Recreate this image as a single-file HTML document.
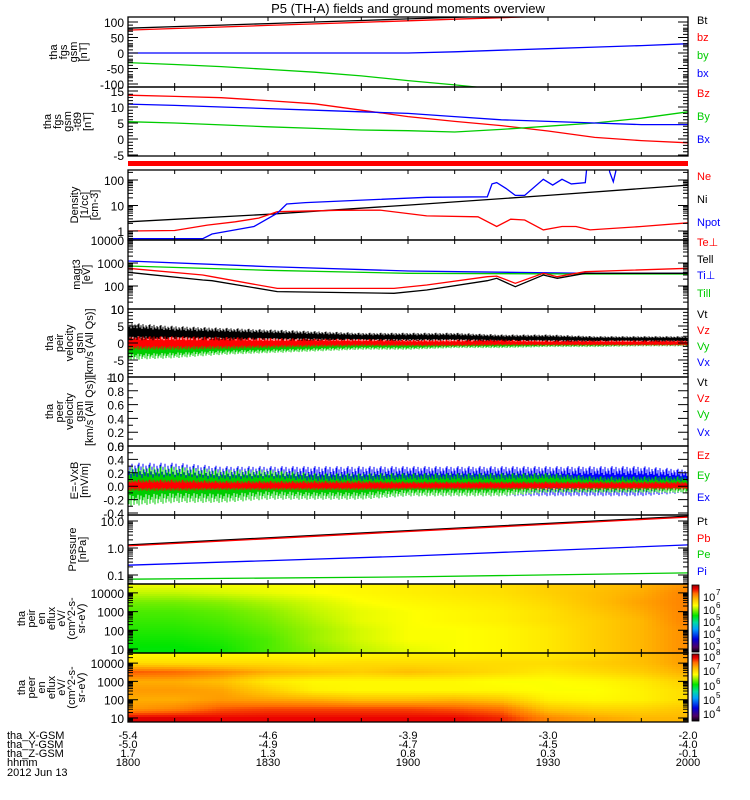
<!DOCTYPE html>
<html><head><meta charset="utf-8"><title>P5 (TH-A) overview</title>
<style>
html,body{margin:0;padding:0;background:#fff;}
svg{display:block;font-family:"Liberation Sans",sans-serif;}
</style></head>
<body>
<svg id="chart" width="750" height="800" viewBox="0 0 750 800" xmlns="http://www.w3.org/2000/svg">
<rect x="0" y="0" width="750" height="800" fill="#fff"/>
<text x="408" y="13" font-size="13" text-anchor="middle">P5 (TH-A) fields and ground moments overview</text>
<g id="layer"></g>
</svg>
<script>
// ---------- data ----------
var T13 = [0,10,20,30,40,50,60,70,80,90,100,110,120];
var bt = [80,85,90,95,100,105,110,115,120,125,130,135,140];
var bz = [74,79,84,89,94,99,104,109,114,119,124,129,134];
var by = [-31,-37,-44,-53,-62,-74,-89,-103,-118,-133,-148,-163,-178];
var bx = [0,0,0,0,0,0,0,4,9,14,19,24,30];
var bzT89 = [13.7,13.3,12.9,12,11,9,7,5.5,4.2,2.5,0.5,-0.5,-1.2];
var byT89 = [5.4,5,4.4,3.8,3.3,2.8,2.6,2.2,3,4,5,6.5,8.5];
var bxT89 = [10.9,10.5,10,9.5,9,8.5,8,7,6,5.5,5,4.5,4.5];
var neT = [0,10,17,23,28,32,45,54,64,75,79,82,85,89,93,96,99,110,120];
var neV = [1.0,1.05,1.7,2.3,3.2,5.7,6.5,6.6,3.9,3.6,1.5,2.9,2.7,1.1,1.5,1.5,1.1,1.5,2.1];
var niT = [0,30,60,90,120];
var niV = [2.3,4.5,10.4,25,63];
var npotT = [0,16,18,27,32,34,38,64,77,78,79,81,83,85,89,91,93,95,98,98.6,103,103.2,104,104.5,105,120];
var npotV = [0.5,0.5,0.76,1.5,5,11.5,13,21,22,70,79,47,25,25,107,63,107,70,79,1000,1000,211,85,211,1000,1000];
var tempT = [0,16,18,32,57,64,77,79,83,89,92,98,120];
var tePerp = [590,300,254,79,79,110,254,270,131,357,254,420,590];
var tePar = [394,182,170,57,48,67,170,216,93,300,216,357,357];
var tiT = [0,30,60,98,120];
var tiPerp = [1220,700,450,357,357];
var tiPar = [740,480,357,333,333];
var vtHi = [6,5,4.5,4,3.5,3,3,3,2.5,2.5,2,2,2];
var vtLo = [0.5,0.5,0.5,0.5,0.5,0.5,0.5,0.5,0.3,0.3,0.3,0.3,0.3];
var vzHi = [2,2,1.8,1.5,1.3,1.2,1,1,1,0.8,0.8,0.8,0.8];
var vzLo = [-2,-2,-1.8,-1.5,-1.2,-1,-1,-1,-0.8,-0.8,-0.8,-0.8,-0.8];
var vyHi = [1.5,1.5,1.2,1,1,1,0.8,0.8,0.8,0.7,0.7,0.7,0.7];
var vyLo = [-5,-4.5,-3.5,-3,-2.5,-2,-2,-1.5,-1.5,-1.2,-1.2,-1,-1];
var vxHi = [1.5,1.3,1.2,1,1,0.9,0.8,0.8,0.7,0.7,0.6,0.6,0.6];
var vxLo = [-3,-2.8,-2.5,-2,-1.8,-1.5,-1.3,-1.2,-1.1,-1,-1,-0.9,-0.9];
var exHi = [0.35,0.35,0.3,0.3,0.3,0.3,0.3,0.3,0.3,0.3,0.3,0.3,0.25];
var exLo = [-0.2,-0.25,-0.2,-0.2,-0.2,-0.2,-0.15,-0.15,-0.15,-0.15,-0.15,-0.15,-0.1];
var eyHi = [0.3,0.3,0.25,0.25,0.2,0.2,0.2,0.2,0.2,0.2,0.15,0.15,0.15];
var eyLo = [-0.3,-0.25,-0.25,-0.2,-0.2,-0.2,-0.15,-0.15,-0.15,-0.1,-0.1,-0.1,-0.1];
var ezHi = [0.1,0.1,0.08,0.08,0.08,0.08,0.07,0.07,0.07,0.07,0.07,0.07,0.07];
var ezLo = [-0.07,-0.07,-0.06,-0.06,-0.06,-0.06,-0.05,-0.05,-0.05,-0.05,-0.05,-0.05,-0.05];
var pT = [0,60,120];
var pt = [1.3,4.4,15];
var pb = [1.2,4.1,14];
var pi = [0.23,0.5,1.3];
var pe = [0.07,0.085,0.12];
var specLogE = [4.5,4.0,3.5,3.0,2.5,2.0,1.5,1.0];
var ionFlux = [
[6.0,6.0,6.0,6.0,6.0,6.05,6.1,6.15,6.2,6.3,6.35,6.45,6.6],
[5.85,5.85,5.9,5.95,6.0,6.05,6.1,6.15,6.2,6.3,6.4,6.5,6.7],
[5.65,5.65,5.7,5.8,5.9,6.0,6.05,6.1,6.15,6.25,6.4,6.55,6.7],
[5.55,5.55,5.6,5.7,5.85,5.95,6.0,6.05,6.1,6.2,6.35,6.5,6.7],
[5.5,5.5,5.55,5.65,5.8,5.95,6.0,6.05,6.1,6.2,6.3,6.45,6.7],
[5.45,5.45,5.5,5.6,5.75,5.9,6.0,6.0,6.05,6.15,6.3,6.45,6.65],
[5.4,5.4,5.45,5.55,5.75,5.9,6.0,6.0,6.05,6.15,6.3,6.45,6.65],
[5.35,5.35,5.4,5.55,5.7,5.85,5.95,6.0,6.05,6.15,6.3,6.45,6.65]];
var eleFlux = [
[6.9,6.9,6.9,6.9,6.9,6.9,6.95,6.95,7.0,7.0,7.1,7.3,7.5],
[7.1,7.1,7.1,7.1,7.05,7.1,7.1,7.1,7.1,7.1,7.2,7.3,7.5],
[7.8,7.75,7.6,7.4,7.3,7.2,7.3,7.2,7.1,7.0,7.1,7.2,7.4],
[7.4,7.4,7.3,7.0,6.9,6.9,6.9,6.9,6.85,6.85,6.9,7.0,7.2],
[7.5,7.5,7.45,7.2,6.95,6.9,6.9,6.9,6.9,6.85,6.85,6.95,7.1],
[7.4,7.4,7.5,7.45,7.4,7.3,7.3,7.35,7.25,6.95,6.9,6.95,7.1],
[7.5,7.6,7.8,7.85,7.85,7.85,7.85,7.8,7.7,7.25,7.15,7.15,7.25],
[8.1,8.1,8.05,8.05,8.05,8.05,8.05,8.05,7.95,7.6,7.45,7.35,7.35]];
var xTickLabels = ["1800","1830","1900","1930","2000"];
var xGsm = ["-5.4","-4.6","-3.9","-3.0","-2.0"];
var yGsm = ["-5.0","-4.9","-4.7","-4.5","-4.0"];
var zGsm = ["1.7","1.3","0.8","0.3","-0.1"];

// ---------- helpers ----------
var NS = "http://www.w3.org/2000/svg";
var layer = document.getElementById('layer');
var X0 = 128, X1 = 688;
function X(t){ return X0 + t*(X1-X0)/120; }
function mk(tag, attrs, parent){
  var e = document.createElementNS(NS, tag);
  for (var k in attrs) e.setAttribute(k, attrs[k]);
  (parent||layer).appendChild(e);
  return e;
}
var clipN = 0;
function clipFor(p){
  clipN++;
  var cp = mk('clipPath', {id:'cp'+clipN});
  mk('rect', {x:X0, y:p.top, width:X1-X0, height:p.bot-p.top}, cp);
  return 'url(#cp'+clipN+')';
}
function lin(a,b){ return function(v){ return a - b*v; }; }
function lg(y0,k){ return function(v){ return y0 - k*Math.log10(v); }; }

var panels = [
 {top:17,bot:87,y:lin(53,0.31),ticks:[100,50,0,-50,-100],labels:["100","50","0","-50","-100"],minor:[-75,-25,25,75,90,80,70,60,40,30,20,10,-10,-20,-30,-40,-60,-70,-80,-90],title:["tha","fgs","gsm","[nT]"],tx:87},
 {top:87,bot:156,y:lin(139,3.2),ticks:[15,10,5,0,-5],labels:["15","10","5","0","-5"],minor:[14,13,12,11,9,8,7,6,4,3,2,1,-1,-2,-3,-4],title:["tha","fgs","gsm","-t89","[nT]"],tx:91},
 {top:170,bot:240,y:lg(231,25.5),log:true,ticks:[1,10,100],labels:["1","10","100"],title:["Density","[1/cc]","[cm-3]"],tx:98},
 {top:240,bot:309,y:function(v){return 309-23*Math.log10(v/10);},log:true,ticks:[10,100,1000,10000],labels:["10","100","1000","10000"],title:["magt3","[eV]"],tx:90},
 {top:309,bot:377,y:lin(343,3.4),ticks:[10,5,0,-5,-10],labels:["10","5","0","-5","-10"],minor:[9,8,7,6,4,3,2,1,-1,-2,-3,-4,-6,-7,-8,-9],title:["tha","peir","velocity","gsm","[km/s (All Qs)]"],tx:93},
 {top:377,bot:446,y:lin(446,69),ticks:[1,0.8,0.6,0.4,0.2,0],labels:["1.0","0.8","0.6","0.4","0.2","0.0"],minor:[0.9,0.7,0.5,0.3,0.1],title:["tha","peer","velocity","gsm","[km/s (All Qs)]"],tx:93},
 {top:446,bot:515,y:function(v){return 446+(0.6-v)*67;},ticks:[0.6,0.4,0.2,0,-0.2,-0.4],labels:["0.6","0.4","0.2","0.0","-0.2","-0.4"],minor:[0.5,0.3,0.1,-0.1,-0.3],title:["E=-VxB","[mV/m]"],tx:88},
 {top:515,bot:584,y:lg(548,27),log:true,ticks:[0.1,1,10],labels:["0.1","1.0","10.0"],title:["Pressure","[nPa]"],tx:86},
 {top:584,bot:653,y:lg(667.7,18.7),log:true,ticks:[10,100,1000,10000],labels:["10","100","1000","10000"],title:["tha","peir","en","eflux","eV/","(cm^2-s-","sr-eV)"],tx:85},
 {top:653,bot:722,y:lg(736.3,18.3),log:true,ticks:[10,100,1000,10000],labels:["10","100","1000","10000"],title:["tha","peer","en","eflux","eV/","(cm^2-s-","sr-eV)"],tx:85}
];

function line(p, ts, vs, color, name){
  var d = '';
  for (var i=0;i<ts.length;i++){ d += (i?'L':'M') + X(ts[i]).toFixed(1) + ',' + p.y(vs[i]).toFixed(1); }
  var e = mk('path', {d:d, fill:'none', stroke:color, 'stroke-width':1.3, 'clip-path':clipFor(p)});
  
  
}
function band(p, ts, hi, lo, color, name){
  var d = '';
  var n = 0;
  for (var x=X0; x<=X1; x+=1){
    var t = (x-X0)*120/(X1-X0);
    var j = Math.min(ts.length-2, Math.floor(t/10));
    var f = (t - ts[j])/(ts[j+1]-ts[j]);
    var h = hi[j]+(hi[j+1]-hi[j])*f, l = lo[j]+(lo[j+1]-lo[j])*f;
    var s = [1,0.55,0.8,0.4,0.95,0.65,0.5,0.85,0.7,0.45,0.9][n%11];
    var s2 = [0.6,0.9,0.45,1,0.7,0.5,0.95,0.75][n%8];
    var mid = (h+l)/2;
    d += 'M'+x+','+p.y(mid+(h-mid)*s).toFixed(1)+'L'+x+','+p.y(mid-(mid-l)*s2).toFixed(1);
    n++;
  }
  var e = mk('path', {d:d, fill:'none', stroke:color, 'stroke-width':1, 'clip-path':clipFor(p)});
  
  
}

var stops = [[0,0,0,0],[0.08,80,0,100],[0.2,0,0,220],[0.35,0,160,255],[0.45,0,220,160],[0.55,0,230,0],[0.63,140,240,0],[0.7,255,255,0],[0.8,255,185,0],[0.88,255,110,0],[0.95,235,0,0],[1,160,0,0]];
function cmap(f){
  f = Math.max(0,Math.min(1,f));
  for (var i=1;i<stops.length;i++){
    if (f<=stops[i][0]){
      var a=stops[i-1], b=stops[i], k=(f-a[0])/(b[0]-a[0]);
      return 'rgb('+Math.round(a[1]+(b[1]-a[1])*k)+','+Math.round(a[2]+(b[2]-a[2])*k)+','+Math.round(a[3]+(b[3]-a[3])*k)+')';
    }
  }
  return 'rgb(160,0,0)';
}
function spectro(p, grid, vmin, vmax, name){
  var g = mk('g', {'clip-path':clipFor(p)});
  
  
  var dx=4, dy=2;
  for (var x=X0; x<X1; x+=dx){
    var t = (x+dx/2-X0)*120/(X1-X0);
    var j = Math.min(T13.length-2, Math.floor(t/10));
    var ft = (t-T13[j])/10;
    for (var y=p.top; y<p.bot; y+=dy){
      var le = 1 + (p.y(10) - (y+dy/2))/(p.y(10)-p.y(100));
      var r = (specLogE[0]-le)/0.5;
      r = Math.max(0, Math.min(specLogE.length-1.0001, r));
      var i = Math.floor(r), fr = r-i;
      var i2 = Math.min(i+1, specLogE.length-1);
      var v = (grid[i][j]*(1-ft)+grid[i][j+1]*ft)*(1-fr) + (grid[i2][j]*(1-ft)+grid[i2][j+1]*ft)*fr;
      mk('rect', {x:x, y:y, width:dx+0.5, height:dy+0.5, fill:cmap((v-vmin)/(vmax-vmin))}, g);
    }
  }
}

// ---------- series ----------
var P = panels;
line(P[0], T13, bt, '#000', 'bt-line');
line(P[0], T13, bz, '#f00', 'bz-line');
line(P[0], T13, by, '#0c0', 'by-line');
line(P[0], T13, bx, '#00f', 'bx-line');
line(P[1], T13, bzT89, '#f00', 'bz-t89-line');
line(P[1], T13, byT89, '#0c0', 'by-t89-line');
line(P[1], T13, bxT89, '#00f', 'bx-t89-line');
var rb = mk('rect', {x:X0, y:161, width:X1-X0, height:5, fill:'#f00'});


line(P[2], niT, niV, '#000', 'ni-line');
line(P[2], neT, neV, '#f00', 'ne-line');
line(P[2], npotT, npotV, '#00f', 'npot-line');
line(P[3], tiT, tiPerp, '#00f', 'ti-perp-line');
line(P[3], tiT, tiPar, '#0c0', 'ti-par-line');
line(P[3], tempT, tePar, '#000', 'te-par-line');
line(P[3], tempT, tePerp, '#f00', 'te-perp-line');
band(P[4], T13, vtHi, vtLo, '#000', 'vt-band');
band(P[4], T13, vxHi, vxLo, '#00f', 'vx-band');
band(P[4], T13, vyHi, vyLo, '#0c0', 'vy-band');
band(P[4], T13, vzHi, vzLo, '#f00', 'vz-band');
band(P[6], T13, exHi, exLo, '#00f', 'ex-band');
band(P[6], T13, eyHi, eyLo, '#0c0', 'ey-band');
band(P[6], T13, ezHi, ezLo, '#f00', 'ez-band');
line(P[7], pT, pi, '#00f', 'pi-line');
line(P[7], pT, pe, '#0c0', 'pe-line');
line(P[7], pT, pt, '#000', 'pt-line');
line(P[7], pT, pb, '#f00', 'pb-line');
spectro(P[8], ionFlux, 3, 7.3, 'ion-spectrogram');
spectro(P[9], eleFlux, 3.5, 8.3, 'electron-spectrogram');

// ---------- frames, ticks, labels ----------
panels.forEach(function(p, idx){
  var fr = mk('rect', {x:X0, y:p.top, width:X1-X0, height:p.bot-p.top, fill:'none', stroke:'#000', 'stroke-width':1.3});
  
  
  var d = '';
  for (var m=10;m<120;m+=10){ var x=X(m); d += 'M'+x+','+p.top+'v4M'+x+','+p.bot+'v-4'; }
  var maj = function(y){ d += 'M'+X0+','+y+'h10M'+X1+','+y+'h-10'; };
  var mnr = function(y){ d += 'M'+X0+','+y+'h5M'+X1+','+y+'h-5'; };
  p.ticks.forEach(function(v){ maj(p.y(v)); });
  if (p.log){
    for (var e=-3;e<6;e++) for (var k=2;k<10;k++){ var y=p.y(k*Math.pow(10,e)); if (y>p.top && y<p.bot) mnr(y); }
  } else if (p.minor){ p.minor.forEach(function(v){ mnr(p.y(v)); }); }
  mk('path', {d:d, stroke:'#000', 'stroke-width':1, fill:'none'});
  p.ticks.forEach(function(v,i){
    var tl = mk('text', {x:124, y:p.y(v)+5, 'font-size':12, 'text-anchor':'end'});
    tl.textContent = p.labels[i];
    
    
  });
  var cy = (p.top+p.bot)/2;
  var n = p.title.length;
  p.title.forEach(function(s,i){
    var x = p.tx - (n-1-i)*10;
    var tt = mk('text', {x:x, y:cy, 'font-size':11, 'text-anchor':'middle', transform:'rotate(-90 '+x+' '+cy+')'});
    tt.textContent = s;
    
    
  });
});

var legends = [
 ['Bt','#000',24],['bz','#f00',41],['by','#0c0',59],['bx','#00f',77],
 ['Bz','#f00',97],['By','#0c0',120],['Bx','#00f',143],
 ['Ne','#f00',180],['Ni','#000',203],['Npot','#00f',226],
 ['Te\u22a5','#f00',246],['Tell','#000',263],['Ti\u22a5','#00f',279],['Till','#0c0',297],
 ['Vt','#000',318],['Vz','#f00',334],['Vy','#0c0',350],['Vx','#00f',366],
 ['Vt','#000',386],['Vz','#f00',402],['Vy','#0c0',418],['Vx','#00f',436],
 ['Ez','#f00',459],['Ey','#0c0',479],['Ex','#00f',501],
 ['Pt','#000',525],['Pb','#f00',542],['Pe','#0c0',558],['Pi','#00f',575]
];
legends.forEach(function(l){
  var t = mk('text', {x:697, y:l[2], 'font-size':11, fill:l[1]});
  t.textContent = l[0];
  
  
});

function colorbar(top, bot, name){
  var g = mk('g', {});
  
  
  for (var y=top; y<bot; y+=1){
    mk('rect', {x:692, y:y, width:7, height:1.2, fill:cmap(1-(y-top)/(bot-top))}, g);
  }
  mk('rect', {x:692, y:top, width:7, height:bot-top, fill:'none', stroke:'#000', 'stroke-width':0.8}, g);
}
colorbar(585, 652, 'ion-colorbar');
colorbar(654, 721, 'electron-colorbar');
var cbl = [['7',601],['6',614],['5',626],['4',638],['3',650],['8',661],['7',675],['6',690],['5',704],['4',718]];
cbl.forEach(function(c){
  var t = mk('text', {x:703, y:c[1], 'font-size':11});
  t.textContent = '10';
  
  
  var s = mk('text', {x:716, y:c[1]-6, 'font-size':8});
  s.textContent = c[0];
  
  
});

var rowsL = ['tha_X-GSM','tha_Y-GSM','tha_Z-GSM','hhmm','2012 Jun 13'];
var rowY = [739,748,757,766,776];
rowsL.forEach(function(s,i){
  var t = mk('text', {x:7, y:rowY[i], 'font-size':11});
  t.textContent = s;
  
  
});
var rowsV = [xGsm, yGsm, zGsm, xTickLabels];
rowsV.forEach(function(arr,r){
  arr.forEach(function(s,i){
    var t = mk('text', {x:X(i*30), y:rowY[r], 'font-size':11, 'text-anchor':'middle'});
    t.textContent = s;
    
    
  });
});
</script>
</body></html>
